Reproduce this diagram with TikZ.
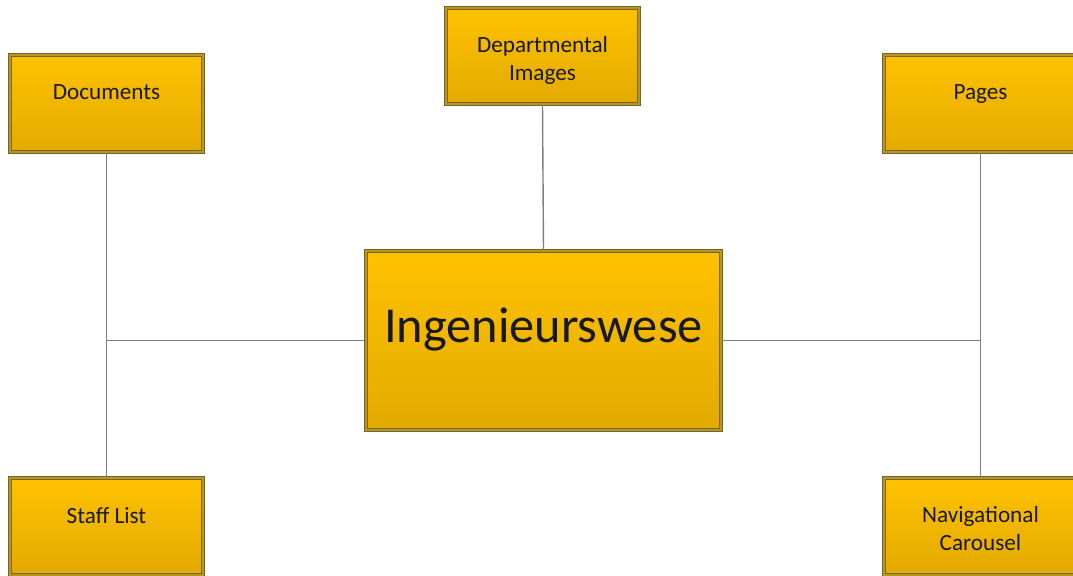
\documentclass[tikz,border=0pt]{standalone}
\usepackage{fontspec}
\setmainfont{Carlito}
\usetikzlibrary{shadows}
\definecolor{boxtop}{HTML}{FEC200}
\definecolor{boxbot}{HTML}{E3AA00}
\definecolor{boxedge}{HTML}{756430}
\definecolor{boxedgein}{HTML}{B8961C}
\definecolor{wire}{HTML}{808080}
\tikzset{
  pagebox/.style={rectangle, draw=boxedge, double=boxedgein, double distance=0.9pt, line width=0.9pt,
    top color=boxtop, bottom color=boxbot, drop shadow={opacity=0.15, shadow xshift=1.5pt, shadow yshift=-1.5pt},
    minimum width=193*0.025cm, minimum height=97*0.025cm, inner sep=0pt},
  hubbox/.style={pagebox, minimum width=355*0.025cm, minimum height=179*0.025cm},
  boxtext/.style={anchor=north, inner sep=0pt, align=center, font=\fontsize{16.5}{20}\selectfont, text=black!90},
  wireline/.style={draw=wire, line width=1pt}
}
\begin{document}
\begin{tikzpicture}[x=0.025cm, y=-0.025cm]
\useasboundingbox (0,0) rectangle (1073,576);
% boxes:
\node[hubbox] (hub) at (543.5,340.5) {};
\node[pagebox, minimum height=96*0.025cm] (dept) at (542.5,56) {};
\node[pagebox] (docs) at (106.5,103.5) {};
\node[pagebox] (pages) at (980.5,103.5) {};
\node[pagebox] (staff) at (106.5,526.5) {};
\node[pagebox] (carousel) at (980.5,526.5) {};
% texts:
\node[boxtext, font=\fontsize{35.8}{43}\selectfont] (hubtext) at ([yshift=-57*0.025cm]hub.north) {Ingenieurswese};
\node[boxtext] (depttext) at ([yshift=-29*0.025cm]dept.north) {Departmental\\Images};
\node[boxtext] (docstext) at ([yshift=-30*0.025cm]docs.north) {Documents};
\node[boxtext] (pagestext) at ([yshift=-30*0.025cm]pages.north) {Pages};
\node[boxtext] (stafftext) at ([yshift=-30*0.025cm]staff.north) {Staff List};
\node[boxtext] (carouseltext) at ([yshift=-29*0.025cm]carousel.north) {Navigational\\Carousel};
% connectors:
\coordinate (leftjoin) at (docs.south |- hub.west);
\coordinate (rightjoin) at (pages.south |- hub.east);
\draw[wireline] (dept.south) -- (hub.north);
\draw[wireline] (docs.south) -- (leftjoin) -- (staff.north);
\draw[wireline] (leftjoin) -- (hub.west);
\draw[wireline] (pages.south) -- (rightjoin) -- (carousel.north);
\draw[wireline] (rightjoin) -- (hub.east);
\end{tikzpicture}
\end{document}
